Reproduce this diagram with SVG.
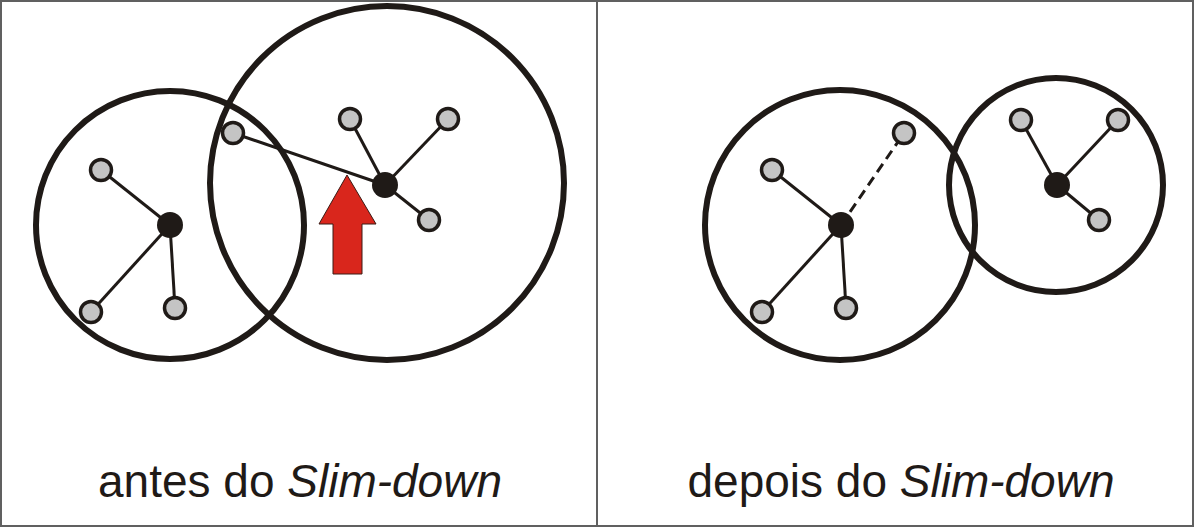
<svg xmlns="http://www.w3.org/2000/svg" width="1194" height="527" viewBox="0 0 1194 527">
<style>
.frame{fill:none;stroke:#606060;stroke-width:2}
.cluster{fill:none;stroke:#1f1a17;stroke-width:6}
.edge{stroke:#1f1a17;stroke-width:3;fill:none}
.dash{stroke-dasharray:10 6}
.leaf{fill:#c4c4c4;stroke:#1f1a17;stroke-width:3.5}
.hub{fill:#1f1a17}
.lbl{font-family:"Liberation Sans",Arial,sans-serif;font-size:46px;fill:#1f1a17;text-anchor:middle}
</style>
<rect x="1" y="1" width="1192" height="525" class="frame"/>
<line x1="597" y1="0" x2="597" y2="527" class="frame"/>
<g id="connectors">
<line class="edge" x1="170" y1="225" x2="101" y2="170"/>
<line class="edge" x1="170" y1="225" x2="91" y2="312"/>
<line class="edge" x1="170" y1="225" x2="175" y2="308"/>
<line class="edge" x1="385" y1="185" x2="233" y2="133"/>
<line class="edge" x1="385" y1="185" x2="350" y2="119"/>
<line class="edge" x1="385" y1="185" x2="448" y2="119"/>
<line class="edge" x1="385" y1="185" x2="429" y2="220"/>
<line class="edge" x1="841" y1="225" x2="772" y2="170"/>
<line class="edge dash" x1="841" y1="225" x2="904" y2="133"/>
<line class="edge" x1="841" y1="225" x2="762" y2="312"/>
<line class="edge" x1="841" y1="225" x2="846" y2="308"/>
<line class="edge" x1="1057" y1="185" x2="1021" y2="120"/>
<line class="edge" x1="1057" y1="185" x2="1118" y2="120"/>
<line class="edge" x1="1057" y1="185" x2="1099" y2="220"/>
</g>
<g id="clusterA"><circle class="cluster" cx="170" cy="225" r="134"/></g>
<g id="clusterB"><circle class="cluster" cx="387" cy="183" r="177"/></g>
<g id="clusterC"><circle class="cluster" cx="840" cy="225" r="135"/></g>
<g id="clusterD"><circle class="cluster" cx="1056" cy="185" r="107"/></g>
<g id="hubA"><circle class="hub" cx="170" cy="225" r="13"/></g>
<g id="a1"><circle class="leaf" cx="101" cy="170" r="10.5"/></g>
<g id="a2"><circle class="leaf" cx="91" cy="312" r="10.5"/></g>
<g id="a3"><circle class="leaf" cx="175" cy="308" r="10.5"/></g>
<g id="hubB"><circle class="hub" cx="385" cy="185" r="13"/></g>
<g id="b1"><circle class="leaf" cx="233" cy="133" r="10.5"/></g>
<g id="b2"><circle class="leaf" cx="350" cy="119" r="10.5"/></g>
<g id="b3"><circle class="leaf" cx="448" cy="119" r="10.5"/></g>
<g id="b4"><circle class="leaf" cx="429" cy="220" r="10.5"/></g>
<g id="hubC"><circle class="hub" cx="841" cy="225" r="13"/></g>
<g id="c1"><circle class="leaf" cx="772" cy="170" r="10.5"/></g>
<g id="c2"><circle class="leaf" cx="904" cy="133" r="10.5"/></g>
<g id="c3"><circle class="leaf" cx="762" cy="312" r="10.5"/></g>
<g id="c4"><circle class="leaf" cx="846" cy="308" r="10.5"/></g>
<g id="hubD"><circle class="hub" cx="1057" cy="185" r="13"/></g>
<g id="d1"><circle class="leaf" cx="1021" cy="120" r="10.5"/></g>
<g id="d2"><circle class="leaf" cx="1118" cy="120" r="10.5"/></g>
<g id="d3"><circle class="leaf" cx="1099" cy="220" r="10.5"/></g>
<g id="arrow"><polygon points="347,175 376,224 362,224 362,274 333,274 333,224 319,224" fill="#d9261c" stroke="#3a1a14" stroke-width="1"/></g>
<text class="lbl" x="300" y="497">antes do <tspan font-style="italic">Slim-down</tspan></text>
<text class="lbl" x="901" y="497">depois do <tspan font-style="italic">Slim-down</tspan></text>
</svg>
